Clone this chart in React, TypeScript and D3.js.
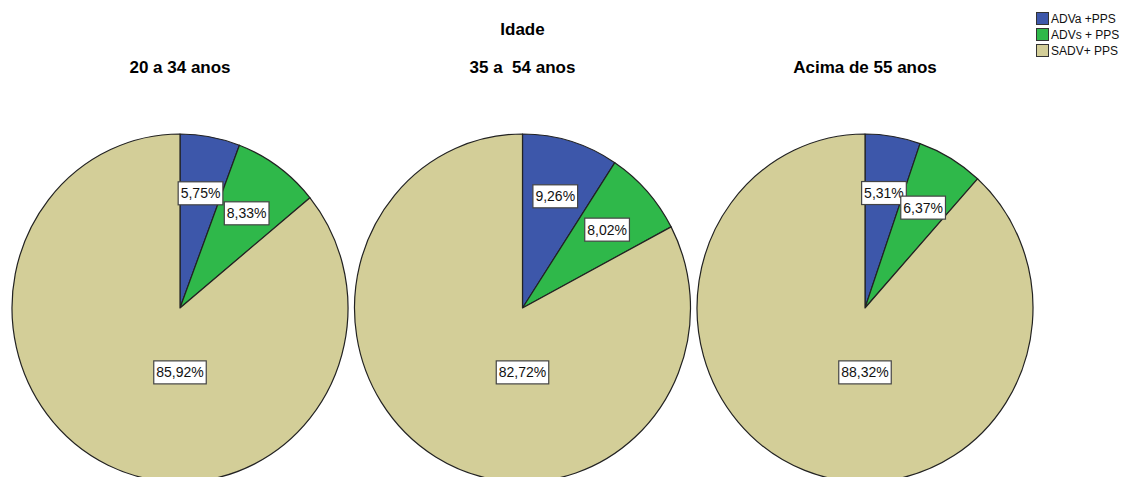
import React, { useEffect, useRef } from "react";
import * as d3 from "d3";

const title = "Idade";
const seriesNames = ["ADVa +PPS", "ADVs + PPS", "SADV+ PPS"];
const colors = ["#3d57aa", "#2fb84a", "#d3ce98"];
const groups = ["20 a 34 anos", "35 a  54 anos", "Acima de 55 anos"];
const valuesYoung = [5.75, 8.33, 85.92];
const valuesMid = [9.26, 8.02, 82.72];
const valuesOld = [5.31, 6.37, 88.32];
const allValues = [valuesYoung, valuesMid, valuesOld];

const W = 1123;
const H = 477;

export default function App() {
  const ref = useRef<SVGSVGElement | null>(null);

  useEffect(() => {
    const svg = d3.select(ref.current);
    svg.selectAll("*").remove();

    const rx = 168;
    const ry = 174;
    const cy = 308;
    const xScale = d3.scalePoint<string>().domain(groups).range([180, 865]);

    svg
      .append("text")
      .attr("x", (xScale(groups[0])! + xScale(groups[2])!) / 2)
      .attr("y", 35)
      .attr("text-anchor", "middle")
      .attr("font-family", "Arial, 'Liberation Sans', sans-serif")
      .attr("font-weight", "bold")
      .attr("font-size", 17)
      .text(title);

    const pie = d3
      .pie<number>()
      .sort(null)
      .value((d) => d);
    const arc = d3.arc<d3.PieArcDatum<number>>().innerRadius(0).outerRadius(rx);
    const fmt = (v: number) => v.toFixed(2).replace(".", ",") + "%";

    groups.forEach((g, gi) => {
      const cx = xScale(g)!;
      svg
        .append("text")
        .attr("x", cx)
        .attr("y", 73)
        .attr("text-anchor", "middle")
        .attr("font-family", "Arial, 'Liberation Sans', sans-serif")
        .attr("font-weight", "bold")
        .attr("font-size", 17)
        .style("white-space", "pre")
        .text(g);

      const arcs = pie(allValues[gi]);
      const pg = svg
        .append("g")
        .attr("transform", `translate(${cx},${cy}) scale(1,${ry / rx})`);
      pg.selectAll("path")
        .data(arcs)
        .enter()
        .append("path")
        .attr("d", arc as any)
        .attr("fill", (_d, i) => colors[i])
        .attr("stroke", "#222")
        .attr("stroke-width", 1.2)
        .attr("stroke-linejoin", "round")
        .attr("vector-effect", "non-scaling-stroke");

      arcs.forEach((a) => {
        const big = a.value > 50;
        const mid = big ? Math.PI : (a.startAngle + a.endAngle) / 2;
        const fx = big ? 0.37 : 0.68;
        const fy = big ? 0.37 : 0.67;
        const lx = cx + fx * rx * Math.sin(mid);
        const ly = cy - fy * ry * Math.cos(mid);
        const lg = svg.append("g");
        const rect = lg.append("rect");
        const t = lg
          .append("text")
          .attr("x", lx)
          .attr("y", ly)
          .attr("text-anchor", "middle")
          .attr("dominant-baseline", "central")
          .attr("font-family", "Arial, 'Liberation Sans', sans-serif")
          .attr("font-size", 14)
          .attr("fill", "#111")
          .text(fmt(a.value));
        const bb = (t.node() as SVGTextElement).getBBox();
        rect
          .attr("x", bb.x - 2.5)
          .attr("y", ly - 11.5)
          .attr("width", bb.width + 5)
          .attr("height", 23)
          .attr("fill", "#fff")
          .attr("stroke", "#444")
          .attr("stroke-width", 1.2);
      });
    });

    // legend
    const lg = svg.append("g");
    seriesNames.forEach((s, i) => {
      const y = 12 + i * 16;
      lg.append("rect")
        .attr("x", 1036.5)
        .attr("y", y + 0.5)
        .attr("width", 12)
        .attr("height", 12)
        .attr("fill", colors[i])
        .attr("stroke", "#333")
        .attr("stroke-width", 1);
      lg.append("text")
        .attr("x", 1051)
        .attr("y", y + 7)
        .attr("dominant-baseline", "central")
        .attr("font-family", "Arial, 'Liberation Sans', sans-serif")
        .attr("font-size", 12)
        .attr("fill", "#111")
        .text(s);
    });
  }, []);

  return (
    <svg
      ref={ref}
      width={W}
      height={H}
      style={{ position: "fixed", left: 0, top: 0, background: "#fff" }}
    />
  );
}
